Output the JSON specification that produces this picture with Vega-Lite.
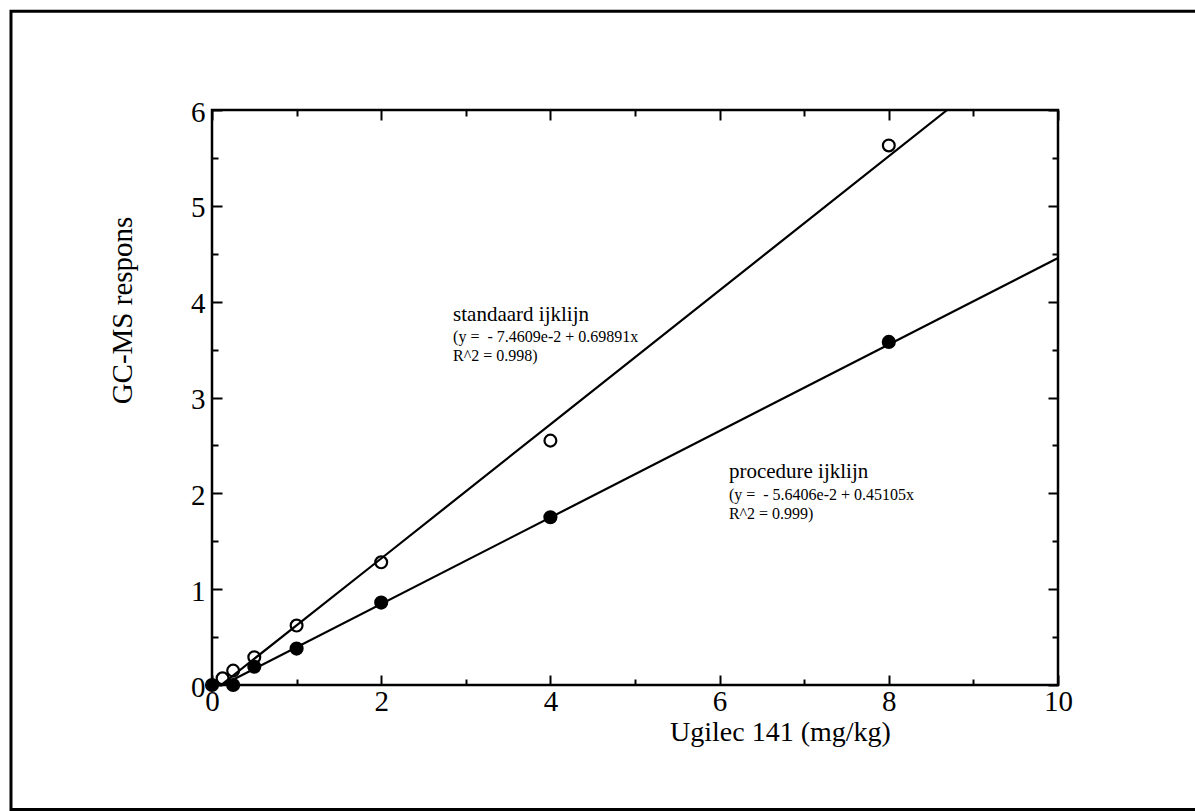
{
  "$schema": "https://vega.github.io/schema/vega-lite/v6.json",
  "width": 846,
  "height": 575,
  "autosize": {"type": "none"},
  "padding": {"left": 212, "top": 110, "right": 137, "bottom": 126},
  "background": "white",
  "config": {
    "view": {"stroke": "black", "strokeWidth": 2.5},
    "font": "Liberation Serif",
    "axis": {"grid": false, "domain": false, "labelFont": "Liberation Serif", "titleFont": "Liberation Serif", "labelColor": "black", "titleColor": "black", "tickColor": "black", "tickWidth": 2, "titleFontWeight": "normal", "labelFlush": false}
  },
  "datasets": {
    "pts": [
      {"x": 0, "y": 0, "serie": "procedure"},
      {"x": 0.25, "y": 0.0, "serie": "procedure"},
      {"x": 0.5, "y": 0.19, "serie": "procedure"},
      {"x": 1, "y": 0.38, "serie": "procedure"},
      {"x": 2, "y": 0.86, "serie": "procedure"},
      {"x": 4, "y": 1.75, "serie": "procedure"},
      {"x": 8, "y": 3.58, "serie": "procedure"},
      {"x": 0.125, "y": 0.07, "serie": "standaard"},
      {"x": 0.25, "y": 0.15, "serie": "standaard"},
      {"x": 0.5, "y": 0.29, "serie": "standaard"},
      {"x": 1, "y": 0.62, "serie": "standaard"},
      {"x": 2, "y": 1.28, "serie": "standaard"},
      {"x": 4, "y": 2.55, "serie": "standaard"},
      {"x": 8, "y": 5.63, "serie": "standaard"}
    ],
    "fit": [
      {"x": 0.107, "y": 0, "serie": "standaard"},
      {"x": 2, "y": 1.32, "serie": "standaard"},
      {"x": 4, "y": 2.72, "serie": "standaard"},
      {"x": 8.69, "y": 6, "serie": "standaard"},
      {"x": 0.125, "y": 0, "serie": "procedure"},
      {"x": 10, "y": 4.455, "serie": "procedure"}
    ],
    "one": [{}]
  },
  "resolve": {"axis": {"x": "independent", "y": "independent"}},
  "layer": [
    {
      "data": {"name": "one"},
      "mark": {"type": "rect", "fill": null, "stroke": "black", "strokeWidth": 3, "clip": false},
      "encoding": {
        "x": {"datum": -2.376, "type": "quantitative", "scale": {"domain": [0, 10], "nice": false, "zero": false}, "axis": null},
        "x2": {"datum": 11.64},
        "y": {"datum": 7.03, "type": "quantitative", "scale": {"domain": [0, 6], "nice": false, "zero": false}, "axis": null},
        "y2": {"datum": -1.3}
      }
    },
    {
      "data": {"name": "fit"},
      "mark": {"type": "line", "color": "black", "strokeWidth": 2.2, "clip": true},
      "encoding": {
        "x": {"field": "x", "type": "quantitative",
          "axis": {"orient": "bottom", "values": [0,2,4,6,8,10], "ticks": false, "labelExpr": "format(datum.value, 'd')", "labelPadding": 2, "labelFontSize": 29, "title": "Ugilec 141 (mg/kg)", "titleFontSize": 28, "titleX": 568, "titleY": 47, "titleBaseline": "middle", "titleAnchor": "middle"}},
        "y": {"field": "y", "type": "quantitative",
          "axis": {"orient": "left", "values": [0,1,2,3,4,5,6], "ticks": false, "labelExpr": "format(datum.value, 'd')", "labelPadding": 7, "labelFontSize": 29, "labelOffset": 2, "title": "GC-MS respons", "titleFontSize": 29, "titleX": -90, "titleY": 200, "titleAngle": -90, "titleBaseline": "middle", "titleAnchor": "middle"}},
        "detail": {"field": "serie"}
      }
    },
    {
      "data": {"name": "pts"},
      "mark": {"type": "point", "opacity": 0},
      "encoding": {
        "x": {"field": "x", "type": "quantitative",
          "axis": {"orient": "bottom", "values": [0,2,4,6,8,10], "labels": false, "title": null, "tickSize": 10, "offset": -10}},
        "y": {"field": "y", "type": "quantitative",
          "axis": {"orient": "left", "values": [0,1,2,3,4,5,6], "labels": false, "title": null, "tickSize": 10, "offset": -10}}
      }
    },
    {
      "data": {"name": "pts"},
      "mark": {"type": "point", "opacity": 0},
      "encoding": {
        "x": {"field": "x", "type": "quantitative",
          "axis": {"orient": "bottom", "values": [1,3,5,7,9], "labels": false, "title": null, "tickSize": 6, "offset": -6}},
        "y": {"field": "y", "type": "quantitative",
          "axis": {"orient": "left", "values": [0.5,1.5,2.5,3.5,4.5,5.5], "labels": false, "title": null, "tickSize": 6, "offset": -6}}
      }
    },
    {
      "data": {"name": "pts"},
      "mark": {"type": "point", "opacity": 0},
      "encoding": {
        "x": {"field": "x", "type": "quantitative",
          "axis": {"orient": "top", "values": [0,2,4,6,8,10], "labels": false, "title": null, "tickSize": 10, "offset": -10}},
        "y": {"field": "y", "type": "quantitative",
          "axis": {"orient": "right", "values": [0,1,2,3,4,5,6], "labels": false, "title": null, "tickSize": 10, "offset": -10}}
      }
    },
    {
      "data": {"name": "pts"},
      "mark": {"type": "point", "opacity": 0},
      "encoding": {
        "x": {"field": "x", "type": "quantitative",
          "axis": {"orient": "top", "values": [1,3,5,7,9], "labels": false, "title": null, "tickSize": 6, "offset": -6}},
        "y": {"field": "y", "type": "quantitative",
          "axis": {"orient": "right", "values": [0.5,1.5,2.5,3.5,4.5,5.5], "labels": false, "title": null, "tickSize": 6, "offset": -6}}
      }
    },
    {
      "data": {"name": "pts"},
      "transform": [{"filter": "datum.serie === 'standaard'"}],
      "mark": {"type": "point", "shape": "circle", "filled": false, "color": "black", "strokeWidth": 2.2, "size": 140, "opacity": 1},
      "encoding": {
        "x": {"field": "x", "type": "quantitative", "axis": null},
        "y": {"field": "y", "type": "quantitative", "axis": null}
      }
    },
    {
      "data": {"name": "pts"},
      "transform": [{"filter": "datum.serie === 'procedure'"}],
      "mark": {"type": "point", "shape": "circle", "filled": true, "color": "black", "size": 200, "opacity": 1, "clip": false},
      "encoding": {
        "x": {"field": "x", "type": "quantitative", "axis": null},
        "y": {"field": "y", "type": "quantitative", "axis": null}
      }
    },
    {
      "data": {"name": "one"},
      "mark": {"type": "text", "text": "standaard ijklijn", "align": "left", "baseline": "middle", "fontSize": 21, "font": "Liberation Serif"},
      "encoding": {"x": {"datum": 2.85, "type": "quantitative", "axis": null}, "y": {"datum": 3.86, "type": "quantitative", "axis": null}}
    },
    {
      "data": {"name": "one"},
      "mark": {"type": "text", "text": ["(y =\u00a0 - 7.4609e-2 + 0.69891x", "R^2 = 0.998)"], "align": "left", "baseline": "middle", "lineHeight": 19, "fontSize": 16, "font": "Liberation Serif"},
      "encoding": {"x": {"datum": 2.85, "type": "quantitative", "axis": null}, "y": {"datum": 3.63, "type": "quantitative", "axis": null}}
    },
    {
      "data": {"name": "one"},
      "mark": {"type": "text", "text": "procedure ijklijn", "align": "left", "baseline": "middle", "fontSize": 21, "font": "Liberation Serif"},
      "encoding": {"x": {"datum": 6.11, "type": "quantitative", "axis": null}, "y": {"datum": 2.22, "type": "quantitative", "axis": null}}
    },
    {
      "data": {"name": "one"},
      "mark": {"type": "text", "text": ["(y =\u00a0 - 5.6406e-2 + 0.45105x", "R^2 = 0.999)"], "align": "left", "baseline": "middle", "lineHeight": 19, "fontSize": 16, "font": "Liberation Serif"},
      "encoding": {"x": {"datum": 6.11, "type": "quantitative", "axis": null}, "y": {"datum": 1.98, "type": "quantitative", "axis": null}}
    }
  ]
}
